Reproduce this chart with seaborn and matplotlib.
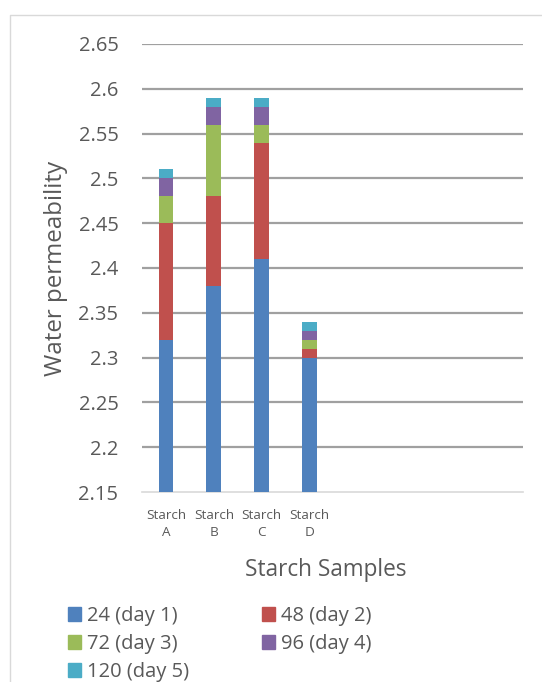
import matplotlib
matplotlib.use("Agg")
import matplotlib.pyplot as plt
import matplotlib.patches as mpatches
from matplotlib.lines import Line2D
import numpy as np
import pandas as pd
import seaborn as sns

categories = ["Starch\nA", "Starch\nB", "Starch\nC", "Starch\nD"]
series_names = ["24 (day 1)", "48 (day 2)", "72 (day 3)", "96 (day 4)", "120 (day 5)"]
day1 = [2.32, 2.38, 2.41, 2.30]
day2 = [0.13, 0.10, 0.13, 0.01]
day3 = [0.03, 0.08, 0.02, 0.01]
day4 = [0.02, 0.02, 0.02, 0.01]
day5 = [0.01, 0.01, 0.01, 0.01]
colors = ["#4F81BD", "#C0504D", "#9BBB59", "#8064A2", "#4BACC6"]
yticks = [2.15, 2.2, 2.25, 2.3, 2.35, 2.4, 2.45, 2.5, 2.55, 2.6, 2.65]

sns.set_style("white")
plt.rcParams['font.family'] = ['Open Sans', 'DejaVu Sans']

fig = plt.figure(figsize=(5.42, 6.82), dpi=100)
ax = fig.add_axes([142/542, 1-492/682, (523-142)/542, (492-44)/682])

series = [day1, day2, day3, day4, day5]
cum = np.cumsum(np.array(series), axis=0)
for i in range(len(series) - 1, -1, -1):
    df = pd.DataFrame({"cat": categories, "val": cum[i]})
    sns.barplot(data=df, x="cat", y="val", color=colors[i], saturation=1,
                width=0.31, ax=ax, zorder=3, linewidth=0)

ax.set_xlim(-0.5, 7.45)
ax.set_ylim(2.15, 2.65)
ax.set_yticks(yticks)
ax.set_yticklabels([f"{v:g}" for v in yticks])
for v in yticks[1:]:
    ax.axhline(v, color="#a0a0a0", lw=1.6, zorder=1)
for s in ["top", "right", "left"]:
    ax.spines[s].set_visible(False)
ax.spines["bottom"].set_color("#d9d9d9")
ax.spines["bottom"].set_linewidth(1.2)
ax.tick_params(axis="y", length=0, pad=17, labelsize=14.5, labelcolor="#595959")
ax.tick_params(axis="x", length=0, pad=12, labelsize=9.7, labelcolor="#595959")
for lab in ax.get_xticklabels():
    lab.set_linespacing(1.45)
ax.set_xlabel("Starch Samples", fontsize=16.3, color="#595959")
ax.xaxis.set_label_coords((326-142)/(523-142), -(558-492)/(492-44))
ax.set_ylabel("Water permeability", fontsize=17.4, color="#595959")
ax.yaxis.set_label_coords(-(142-68)/(523-142), 0.5)

handles = [mpatches.Patch(color=c, label=n) for c, n in zip(colors, series_names)]
order = [0, 2, 4, 1, 3]
leg = fig.legend([handles[i] for i in order], [series_names[i] for i in order],
                 ncol=2, loc="upper left", bbox_to_anchor=(68/542, 1-606/682),
                 frameon=False, fontsize=14.5, handlelength=0.65, handleheight=0.65,
                 handletextpad=0.3, columnspacing=3.6, labelspacing=0.4,
                 borderpad=0, borderaxespad=0, labelcolor="#595959")

fig.add_artist(Line2D([10/542, 10/542, 1], [0, 1-15/682, 1-15/682],
                      transform=fig.transFigure, color="#d9d9d9", lw=1))

fig.savefig("out.png", dpi=100)
